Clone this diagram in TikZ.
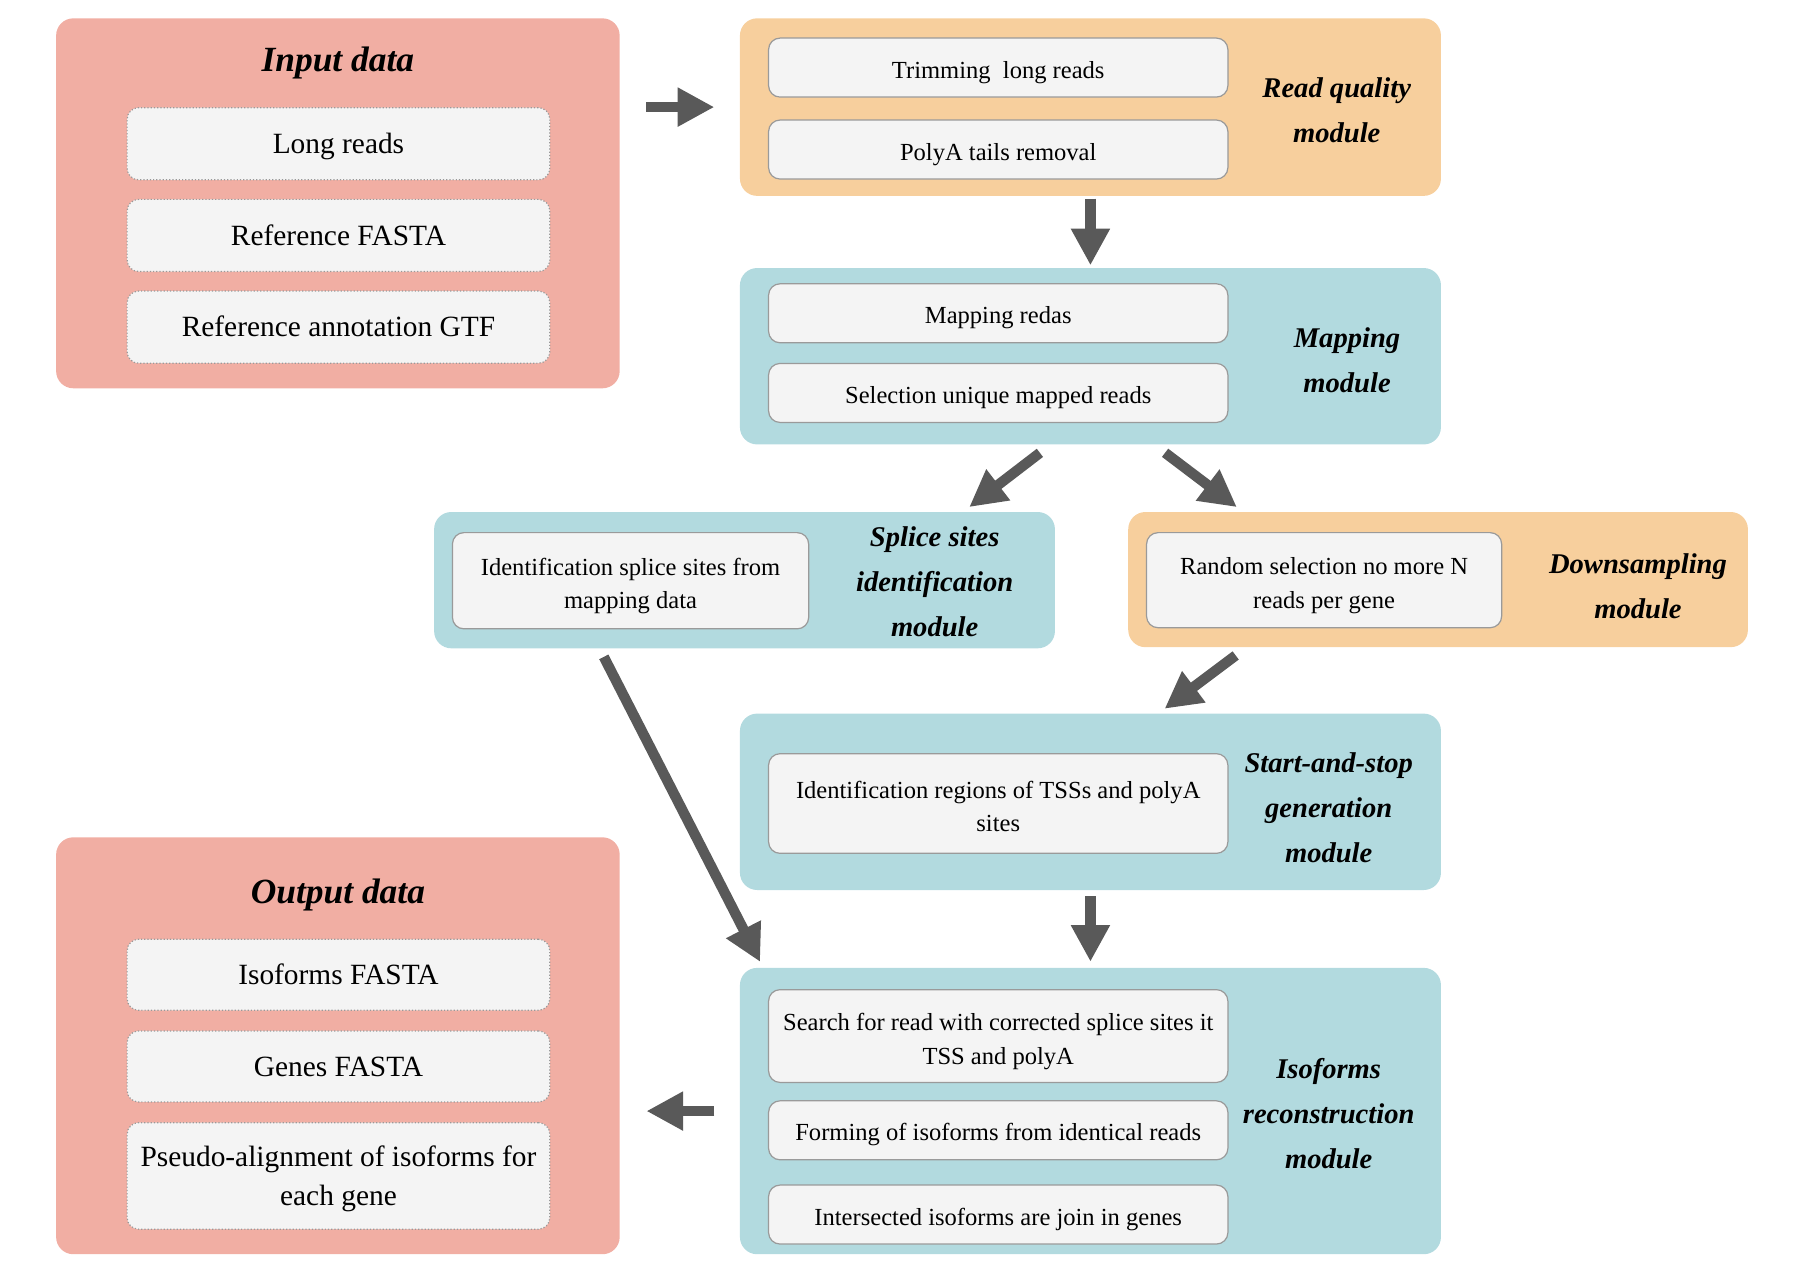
\documentclass[tikz,border=0pt]{standalone}
\usepackage{fontspec}
\setmainfont{Liberation Serif}
\usepackage{tikz}
\usetikzlibrary{positioning, shapes.misc, arrows.meta}
\definecolor{salmon}{HTML}{F1AEA3}
\definecolor{peach}{HTML}{F7CF9D}
\definecolor{paleblue}{HTML}{B2DADF}
\definecolor{boxgray}{HTML}{F4F4F4}
\definecolor{boxedge}{HTML}{9A9A9A}
\definecolor{arrowgray}{HTML}{595959}
\tikzstyle{datablock} = [rectangle, rounded corners=0.3cm, minimum width=9.84cm, fill=salmon]
\tikzstyle{qcblock} = [rectangle, rounded corners=0.3cm, minimum width=12.24cm, fill=peach]
\tikzstyle{bluemod} = [rectangle, rounded corners=0.3cm, minimum width=12.24cm, fill=paleblue]
\tikzstyle{datafile} = [rectangle, rounded corners=0.2cm, minimum width=7.38cm, minimum height=1.26cm, inner sep=2pt, align=center, draw=boxedge, densely dotted, line width=0.6pt, fill=boxgray, font=\fontsize{14.6}{19.3}\selectfont, execute at begin node={\rule[-3.2pt]{0pt}{16.1pt}}]
\tikzstyle{stage} = [rectangle, rounded corners=0.2cm, minimum width=8.02cm, minimum height=1.03cm, inner sep=2pt, align=center, draw=boxedge, line width=0.6pt, fill=boxgray, font=\fontsize{12.2}{16.5}\selectfont, execute at begin node={\rule[-2.7pt]{0pt}{15.8pt}}]
\tikzstyle{twoline} = [execute at begin node={\rule[-2.7pt]{0pt}{33.2pt}}]
\tikzstyle{blocktitle} = [font=\fontsize{17.6}{22}\selectfont\bfseries\itshape]
\tikzstyle{modlabel} = [align=center, font=\fontsize{14.2}{22.4}\selectfont\bfseries\itshape]
\tikzstyle{arrow} = [line width=0.18cm, draw=arrowgray, -{Triangle[width=0.64cm,length=0.64cm]}]
\def\gap{0.34}

\begin{document}
\begin{tikzpicture}[node distance=0.32cm]
\useasboundingbox (0,0) rectangle (31.36,-22.22);

% input data
\node (indata) [datablock, minimum height=6.46cm] at (5.9,-3.55) {};
\node (intitle) [blocktitle] at (5.9,-1.1) {Input data};
\node (longreads) [datafile] at (5.91,-2.51) {Long reads};
\node (reffasta) [datafile, below=of longreads] {Reference FASTA};
\node (refgtf) [datafile, below=of reffasta] {Reference annotation GTF};

% read quality module
\node (rq) [qcblock, minimum height=3.1cm] at (19.04,-1.87) {};
\node (trim) [stage] at (17.43,-1.18) {Trimming~ long reads};
\node (polya) [stage, below=0.38cm of trim] {PolyA tails removal};
\node (rqlabel) [modlabel] at (23.34,-1.93) {Read quality\\module};

% mapping module
\node (map) [bluemod, minimum height=3.08cm] at (19.04,-6.22) {};
\node (mapreads) [stage] at (17.43,-5.47) {Mapping redas};
\node (unique) [stage, below=\gap cm of mapreads] {Selection unique mapped reads};
\node (maplabel) [modlabel] at (23.52,-6.29) {Mapping\\module};

% splice sites module
\node (spl) [bluemod, minimum width=10.84cm, minimum height=2.38cm] at (13.0,-10.13) {};
\node (splid) [stage, twoline, minimum width=6.22cm, minimum height=1.68cm] at (11.01,-10.14) {Identification splice sites from\\mapping data};
\node (spllabel) [modlabel] at (16.32,-10.16) {Splice sites\\identification\\module};

% downsampling module
\node (down) [qcblock, minimum width=10.82cm, minimum height=2.36cm] at (25.11,-10.12) {};
\node (random) [stage, twoline, minimum width=6.2cm, minimum height=1.66cm] at (23.12,-10.13) {Random selection no more N\\reads per gene};
\node (downlabel) [modlabel] at (28.6,-10.24) {Downsampling\\module};

% start-and-stop module
\node (sts) [bluemod, minimum height=3.08cm] at (19.04,-14.0) {};
\node (tss) [stage, twoline, minimum height=1.74cm] at (17.43,-14.03) {Identification regions of TSSs and polyA\\sites};
\node (stslabel) [modlabel] at (23.2,-14.1) {Start-and-stop\\generation\\module};

% isoforms module
\node (iso) [bluemod, minimum height=5.0cm] at (19.04,-19.4) {};
\node (search) [stage, twoline, minimum height=1.62cm] at (17.43,-18.09) {Search for read with corrected splice sites it\\TSS and polyA};
\node (forming) [stage, below=0.3cm of search] {Forming of isoforms from identical reads};
\node (join) [stage, below=0.42cm of forming] {Intersected isoforms are join in genes};
\node (isolabel) [modlabel] at (23.2,-19.44) {Isoforms\\reconstruction\\module};

% output data
\node (outdata) [datablock, minimum height=7.28cm] at (5.9,-18.26) {};
\node (outtitle) [blocktitle] at (5.9,-15.62) {Output data};
\node (isofasta) [datafile, minimum height=1.24cm] at (5.91,-17.02) {Isoforms FASTA};
\node (genefasta) [datafile, minimum height=1.24cm, below=\gap cm of isofasta] {Genes FASTA};
\node (pseudo) [datafile, minimum height=1.86cm, below=\gap cm of genefasta, execute at begin node={\rule[-3.2pt]{0pt}{35.6pt}}] {Pseudo-alignment of isoforms for\\each gene};

% arrows
\draw [arrow, shorten <=0.46cm, shorten >=0.44cm] (indata.east |- rq.west) -- (rq.west);
\draw [arrow, shorten <=0.04cm, shorten >=0.04cm] (rq) -- (map);
\draw [arrow, shorten <=0.23cm, shorten >=0.13cm] ([xshift=-0.7cm]map.south) -- ([xshift=3.82cm]spl.north);
\draw [arrow, shorten <=0.23cm, shorten >=0.13cm] ([xshift=1.12cm]map.south) -- ([xshift=-3.41cm]down.north);
\draw [arrow, shorten <=0.23cm, shorten >=0.13cm] ([xshift=-3.35cm]down.south) -- ([xshift=1.19cm]sts.north);
\draw [arrow, shorten <=0.16cm, shorten >=0.11cm] ([xshift=-2.53cm]spl.south) -- ([xshift=0.41cm]iso.north west);
\draw [arrow, shorten <=0.1cm, shorten >=0.1cm] (sts) -- (iso);
\draw [arrow, shorten <=0.44cm, shorten >=0.46cm] (iso.west) -- (outdata.east |- iso.west);
\end{tikzpicture}
\end{document}
